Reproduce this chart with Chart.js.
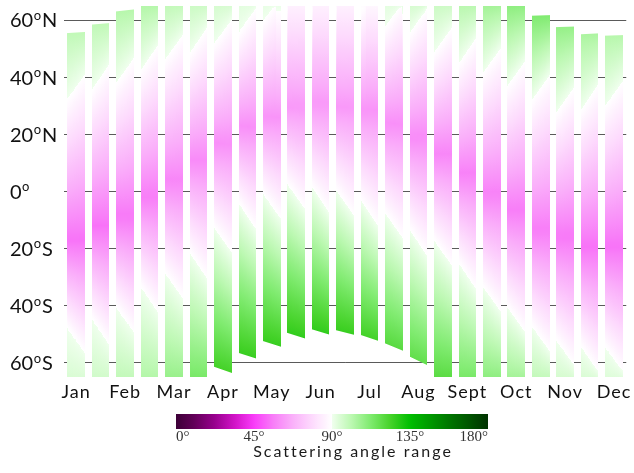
<!DOCTYPE html>
<html>
<head>
<meta charset="utf-8">
<script src="https://cdn.jsdelivr.net/npm/chart.js@4.4.0/dist/chart.umd.min.js"></script>
<style>
  html, body { margin: 0; padding: 0; background: #fff; }
</style>
</head>
<body>
<canvas id="grafica" width="634" height="473"></canvas>
<script>
// two swaths per month (1st and 15th), labels on the 1st
const months = ['Jan', '', 'Feb', '', 'Mar', '', 'Apr', '', 'May', '', 'Jun', '', 'Jul', '', 'Aug', '', 'Sept', '', 'Oct', '', 'Nov', '', 'Dec'];

// swath edges (latitude) at left / right side of each bar
const topStart    = [55.5, 58.5, 63.1, 66, 66, 66, 66, 66, 66, 66, 66, 66, 66, 66, 66, 66, 66, 66, 66, 61.6, 57.6, 55.1, 54.6];
const topEnd      = [55.9, 59.0, 63.8, 66, 66, 66, 66, 66, 66, 66, 66, 66, 66, 66, 66, 66, 66, 66, 66, 61.8, 57.8, 55.4, 54.8];
const bottomStart = [-66, -66, -66, -66, -66, -66, -61.4, -56.6, -52.4, -49.5, -48.3, -48.6, -50.3, -53.2, -57.9, -66, -66, -66, -66, -66, -66, -66, -66];
const bottomEnd   = [-66, -66, -66, -66, -66, -66, -63.6, -58.5, -54.4, -51.5, -50.1, -50.2, -52.3, -55.8, -60.8, -66, -66, -66, -66, -66, -66, -66, -66];

// scattering angle profile of each swath
const topAngle    = [100, 100, 102, 103, 100, 98, 96, 93, 92, 86, 86, 86, 88, 93, 96, 98, 102, 106, 110, 112, 108, 104, 102];
const northWhite  = [36.6, 40, 42.4, 47, 50.6, 53, 56, 60, 64, 70, 70, 70, 68, 62, 60, 53, 49.4, 46, 41.3, 36.6, 32, 33, 34.3];
const peakLat     = [-16.9, -12, -8.7, -1.7, 4, 11, 17, 22.7, 26, 29.7, 30.8, 29.7, 28.5, 23.8, 19, 13.4, 6.4, -0.6, -6.4, -13.4, -15.7, -19.2, -19.2];
const peakAngle   = [54, 54, 55, 56, 58, 59, 60, 60, 61, 62, 62, 62, 61, 60, 59, 58, 57, 57, 56, 56, 55, 54, 54];
const southWhite  = [-52, -49, -44.8, -37.8, -33, -26, -17, -8.7, -5.2, -1.7, -2.9, -4, -7.6, -12, -18, -21.5, -29.7, -37.8, -44.8, -51.7, -56.4, -58.7, -58.7];
const bottomAngle = [95, 97, 100, 103, 108, 114, 124, 126, 126, 127, 127, 126, 124, 120, 118, 120, 114, 110, 106, 100, 96, 95, 94];

const latTicks = [-60, -40, -20, 0, 20, 40, 60];
const angleTicks = [0, 45, 90, 135, 180];

const SHEAR = 9; // degrees the white edges tilt across one swath

// colour scale: purple - magenta - white | light green - green - dark green
const pinkStops = [[0, [60, 0, 55]], [11, [100, 0, 90]], [22, [150, 0, 140]], [34, [210, 20, 200]], [45, [250, 60, 250]],
  [56, [248, 125, 248]], [67, [250, 175, 250]], [79, [253, 220, 253]], [90, [255, 255, 255]]];
const greenStops = [[90, [240, 255, 238]], [101, [188, 248, 178]], [112, [128, 235, 112]], [124, [68, 210, 40]],
  [135, [0, 190, 0]], [146, [0, 155, 0]], [157, [0, 120, 0]], [169, [0, 85, 0]], [180, [0, 50, 0]]];

function colour(a, side) {
  const stops = (a < 90 || (a === 90 && side === 'pink')) ? pinkStops : greenStops;
  if (a <= stops[0][0]) return 'rgb(' + stops[0][1].join(',') + ')';
  for (let k = 0; k < stops.length - 1; k++) {
    const s0 = stops[k], s1 = stops[k + 1];
    if (a <= s1[0]) {
      const f = (a - s0[0]) / (s1[0] - s0[0]);
      const c = s0[1].map((v, j) => Math.round(v + (s1[1][j] - v) * f));
      return 'rgb(' + c.join(',') + ')';
    }
  }
  return 'rgb(' + stops[stops.length - 1][1].join(',') + ')';
}

function angleAt(nodes, lat) {
  if (lat >= nodes[0][0]) return nodes[0][1];
  for (let k = 0; k < nodes.length - 1; k++) {
    const n0 = nodes[k], n1 = nodes[k + 1];
    if (lat <= n0[0] && lat >= n1[0]) {
      if (n0[0] === n1[0]) return n1[1];
      return n0[1] + (n1[1] - n0[1]) * (n0[0] - lat) / (n0[0] - n1[0]);
    }
  }
  return nodes[nodes.length - 1][1];
}

const swathPlugin = {
  id: 'swaths',
  beforeDraw(chart) {
    chart.ctx.letterSpacing = '1px';
  },
  afterDatasetsDraw(chart) {
    const ctx = chart.ctx;
    const y = chart.scales.y;
    const area = chart.chartArea;
    const meta = chart.getDatasetMeta(0);
    ctx.save();
    ctx.beginPath();
    ctx.rect(area.left, area.top, area.right - area.left, area.bottom - area.top);
    ctx.clip();
    meta.data.forEach((bar, i) => {
      const x0 = Math.round(bar.x - bar.width / 2);
      const x1 = Math.round(bar.x + bar.width / 2);
      for (let px = x0; px < x1; px++) {
        const t = (px + 0.5 - x0) / (x1 - x0);
        const latTop = topStart[i] + (topEnd[i] - topStart[i]) * t;
        const latBot = bottomStart[i] + (bottomEnd[i] - bottomStart[i]) * t;
        const s = SHEAR * (t - 0.5);
        const nodes = [
          [latTop, topAngle[i]],
          [northWhite[i] + s, 90],
          [peakLat[i], peakAngle[i]],
          [southWhite[i] - s, 90],
          [latBot, bottomAngle[i]]
        ].sort((p, q) => q[0] - p[0]);
        const yTop = y.getPixelForValue(latTop);
        const yBot = y.getPixelForValue(latBot);
        const g = ctx.createLinearGradient(0, yTop, 0, yBot);
        const steps = 60;
        let prev = null;
        for (let k = 0; k <= steps; k++) {
          const lat = latTop + (latBot - latTop) * k / steps;
          const a = angleAt(nodes, lat);
          const pos = k / steps;
          if (prev !== null && (prev - 90) * (a - 90) < 0) {
            const pc = pos - (1 / steps) * (a - 90) / (a - prev);
            g.addColorStop(pc, colour(90, prev < 90 ? 'pink' : 'green'));
            g.addColorStop(pc, colour(90, a < 90 ? 'pink' : 'green'));
          }
          g.addColorStop(pos, colour(a, 'pink'));
          prev = a;
        }
        ctx.fillStyle = g;
        ctx.fillRect(px, yTop, 1, yBot - yTop);
      }
    });
    ctx.restore();
  }
};

// latitude labels with a raised small "o"
const latLabelPlugin = {
  id: 'latLabels',
  afterDraw(chart) {
    const ctx = chart.ctx;
    const y = chart.scales.y;
    ctx.save();
    ctx.letterSpacing = '0px';
    ctx.fillStyle = '#111';
    ctx.textAlign = 'left';
    ctx.textBaseline = 'alphabetic';
    latTicks.forEach(v => {
      const base = y.getPixelForValue(v) + 7.2;
      const num = String(Math.abs(v));
      const hemi = v > 0 ? 'N' : (v < 0 ? 'S' : '');
      let x = 10;
      ctx.font = '20px Lato';
      ctx.fillText(num, x, base);
      x += ctx.measureText(num).width + 0.5;
      ctx.font = '13px Lato';
      ctx.fillText('o', x, base - 7.3);
      x += ctx.measureText('o').width + 1;
      ctx.font = '20px Lato';
      ctx.fillText(hemi, x, base);
    });
    ctx.restore();
  }
};

// colour bar under the chart
const colourBarPlugin = {
  id: 'colourBar',
  afterDraw(chart) {
    const ctx = chart.ctx;
    const left = 176, right = 488, top = 414, h = 15;
    const g = ctx.createLinearGradient(left, 0, right, 0);
    for (let a = 0; a <= 180; a += 2) {
      if (a === 90) {
        g.addColorStop(0.5, colour(90, 'pink'));
        g.addColorStop(0.5, colour(90, 'green'));
      } else {
        g.addColorStop(a / 180, colour(a, 'pink'));
      }
    }
    ctx.save();
    ctx.fillStyle = g;
    ctx.fillRect(left, top, right - left, h);
    ctx.letterSpacing = '0px';
    ctx.fillStyle = '#333';
    ctx.font = '15px "Liberation Serif"';
    ctx.textBaseline = 'alphabetic';
    angleTicks.forEach((a, k) => {
      const x = left + (right - left) * a / 180;
      ctx.textAlign = k === 0 ? 'left' : (k === angleTicks.length - 1 ? 'right' : 'center');
      ctx.fillText(a + '°', x, 441);
    });
    ctx.letterSpacing = '2px';
    ctx.fillStyle = '#1a1a1a';
    ctx.font = '16px Lato';
    ctx.textAlign = 'center';
    ctx.fillText('Scattering angle range', 353, 457);
    ctx.restore();
  }
};

const ctx = document.getElementById('grafica').getContext('2d');
new Chart(ctx, {
  type: 'bar',
  data: {
    labels: months,
    datasets: [{
      data: months.map((m, i) => [(bottomStart[i] + bottomEnd[i]) / 2, (topStart[i] + topEnd[i]) / 2]),
      backgroundColor: 'rgba(0,0,0,0)',
      borderWidth: 0,
      barPercentage: 0.72,
      categoryPercentage: 1
    }]
  },
  options: {
    responsive: false,
    animation: false,
    layout: { padding: { left: 10, right: 6, top: 6, bottom: 0 } },
    plugins: { legend: { display: false }, tooltip: { enabled: false } },
    scales: {
      x: {
        grid: { display: false, drawTicks: false },
        border: { display: false },
        ticks: { autoSkip: false, maxRotation: 0, padding: 4, color: '#111', font: { family: 'Lato', size: 18 } },
        afterFit: (scale) => { scale.height = 96; }
      },
      y: {
        min: -65,
        max: 65,
        z: 1,
        afterBuildTicks: (scale) => { scale.ticks = latTicks.map(v => ({ value: v })); },
        afterFit: (scale) => { scale.width = 54; },
        grid: { color: '#5a5a5a', lineWidth: 1, drawTicks: false },
        border: { display: false },
        ticks: { display: false }
      }
    }
  },
  plugins: [swathPlugin, latLabelPlugin, colourBarPlugin]
});
</script>
</body>
</html>
